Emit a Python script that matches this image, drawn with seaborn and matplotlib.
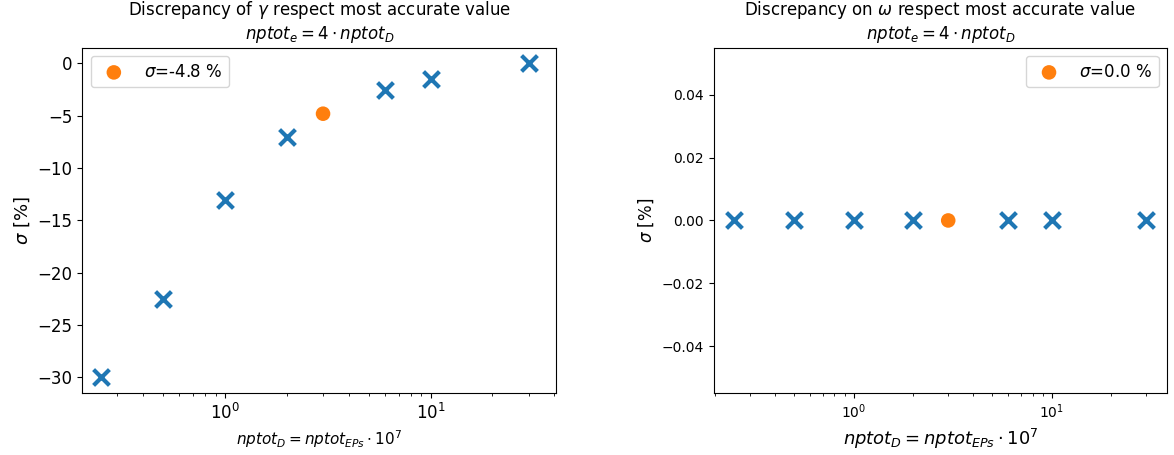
import matplotlib
matplotlib.use("Agg")
import matplotlib.pyplot as plt
import seaborn as sns
import pandas as pd

# data
npt = [0.25, 0.5, 1, 2, 6, 10, 30]
gamma_disc = [-30.0, -22.5, -13.0, -7.0, -2.5, -1.5, 0.0]
omega_disc = [0.0, 0.0, 0.0, 0.0, 0.0, 0.0, 0.0]
sel_npt = [3]
sel_gamma = [-4.8]
sel_omega = [0.0]

blue = "#1f77b4"
orange = "#ff7f0e"

fig = plt.figure(figsize=(11.74, 4.55), dpi=100)
ax1 = fig.add_axes([0.070, 0.136, 0.474 - 0.070, 0.895 - 0.136])
ax2 = fig.add_axes([0.608, 0.136, 0.994 - 0.608, 0.895 - 0.136])

df1 = pd.DataFrame({"x": npt, "y": gamma_disc})
sns.scatterplot(data=df1, x="x", y="y", ax=ax1, marker="x", s=130, linewidth=3, color=blue)
sns.scatterplot(x=sel_npt, y=sel_gamma, ax=ax1, marker="o", s=110, color=orange,
                edgecolor="none", label=r"$\sigma$=-4.8 %")
ax1.set_xscale("log")
ax1.set_xlim(0.202, 41)
ax1.set_title("Discrepancy of $\\gamma$ respect most accurate value\n$nptot_e = 4 \\cdot nptot_D$", fontsize=12)
ax1.set_xlabel(r"$nptot_D = nptot_{EPs} \cdot 10^7$", fontsize=11)
ax1.set_ylabel(r"$\sigma$ [%]", fontsize=13)
ax1.tick_params(labelsize=12)
ax1.legend(loc="upper left", fontsize=12)

df2 = pd.DataFrame({"x": npt, "y": omega_disc})
sns.scatterplot(data=df2, x="x", y="y", ax=ax2, marker="x", s=130, linewidth=3, color=blue)
sns.scatterplot(x=sel_npt, y=sel_omega, ax=ax2, marker="o", s=110, color=orange,
                edgecolor="none", label=r"$\sigma$=0.0 %")
ax2.set_xscale("log")
ax2.set_title("Discrepancy on $\\omega$ respect most accurate value\n$nptot_e = 4 \\cdot nptot_D$", fontsize=12)
ax2.set_xlabel(r"$nptot_D = nptot_{EPs} \cdot 10^7$", fontsize=13)
ax2.set_ylabel(r"$\sigma$ [%]", fontsize=12)
ax2.tick_params(labelsize=10)
ax2.legend(loc="upper right", fontsize=12)

fig.savefig("out.png", dpi=100)
